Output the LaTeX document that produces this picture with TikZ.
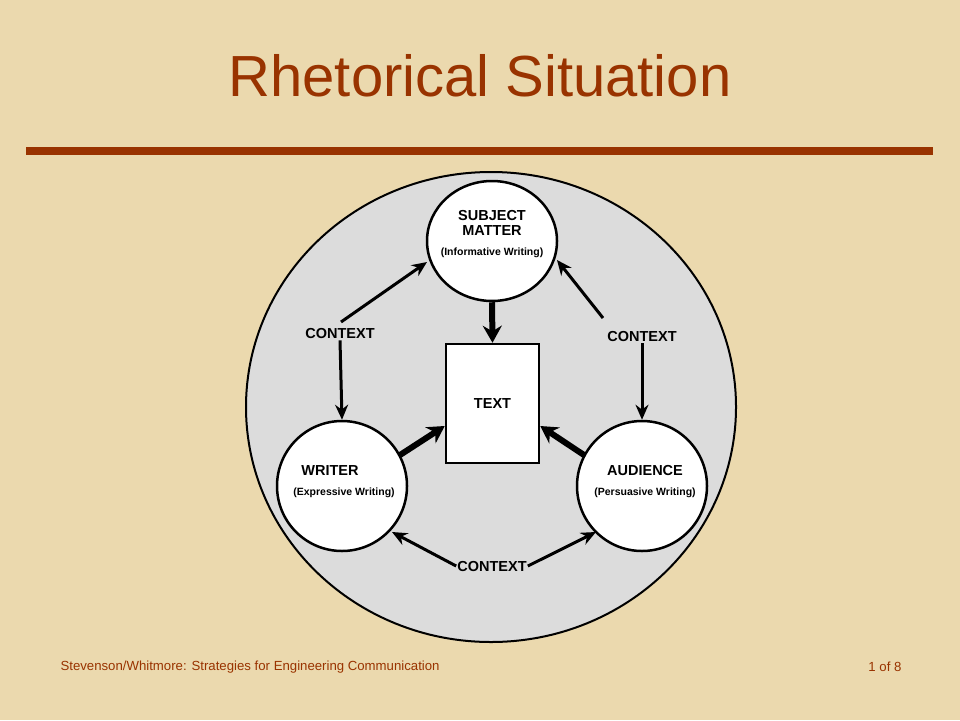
\documentclass[tikz,border=0pt]{standalone}
\usepackage{fontspec}
\setmainfont{Liberation Sans}
\usetikzlibrary{arrows.meta,shapes.geometric}
\definecolor{parch}{HTML}{EBD9AE}
\definecolor{rust}{HTML}{993300}
\definecolor{disk}{HTML}{DCDCDC}
\tikzset{
  bub/.style={ellipse,draw,line width=2.5pt,fill=white,inner sep=0pt},
  lab/.style={font=\bfseries\fontsize{14.5}{16}\selectfont,fill=disk,inner sep=1pt},
  big/.style={font=\bfseries\fontsize{14.5}{15}\selectfont,align=center},
  small/.style={font=\bfseries\fontsize{10.5}{12}\selectfont},
  thin arr/.style={line width=3pt,-{Stealth[length=15pt,width=13pt]}},
  thick arr/.style={line width=6pt,-{Stealth[length=17pt,width=19pt]}},
}
\begin{document}
\begin{tikzpicture}[x=1pt,y=-1pt]
\fill[parch] (0,0) rectangle (960,720);
\useasboundingbox (0,0) rectangle (960,720);
\node[text=rust,font=\fontsize{58}{62}\selectfont] (title) at (480,76) {Rhetorical Situation};
\fill[rust] (26,147) rectangle (933,155);
\node[anchor=west,text=rust,font=\fontsize{13.2}{15}\selectfont] (foot) at (57,667) {Stevenson/Whitmore: Strategies for Engineering Communication};
\node[anchor=east,text=rust,font=\fontsize{13.2}{15}\selectfont] (page) at (905,667) {1 of 8};
\draw[line width=2pt,fill=disk] (491,407) ellipse [x radius=245,y radius=235];
\node[bub,minimum width=130pt,minimum height=120pt] (subj) at (492,241) {};
\node[big] at (492,223) {SUBJECT\\MATTER};
\node[small] at (492,253) {(Informative Writing)};
\node[bub,minimum width=130pt,minimum height=130pt] (wri) at (342,486) {};
\node[big] at (330,471) {WRITER};
\node[small] at (344,493) {(Expressive Writing)};
\node[bub,minimum width=130pt,minimum height=130pt] (aud) at (642,486) {};
\node[big] at (645,471) {AUDIENCE};
\node[small] at (645,493) {(Persuasive Writing)};
\node[draw,line width=2.5pt,fill=white,minimum width=93pt,minimum height=119pt,inner sep=0pt,font=\bfseries\fontsize{14.5}{15}\selectfont] (text) at (492.5,403.5) {TEXT};
\node[lab] (cl) at (340,334) {CONTEXT};
\node[lab] (cr) at (642,337) {CONTEXT};
\node[lab] (cb) at (492,566) {CONTEXT};
\coordinate (clt) at (341,322);
\coordinate (crt) at (603,318);
\coordinate (sl) at (427,262);
\coordinate (sr) at (557,260);
\coordinate (ws) at (392,532);
\coordinate (as) at (596,532);
\coordinate (wt) at (400,455);
\coordinate (at) at (584,455);
\draw[thin arr] (clt) -- (sl);
\draw[thin arr] (cl.south) -- (wri.north);
\draw[thin arr] (crt) -- (sr);
\draw[thin arr] (cr.south) -- (aud.north);
\draw[thin arr] (cb.west) -- (ws);
\draw[thin arr] (cb.east) -- (as);
\draw[thick arr] (subj.south) -- (text.north);
\draw[thick arr] (wt) -- (text.west |- 0,426);
\draw[thick arr] (at) -- (text.east |- 0,426);
\end{tikzpicture}
\end{document}
